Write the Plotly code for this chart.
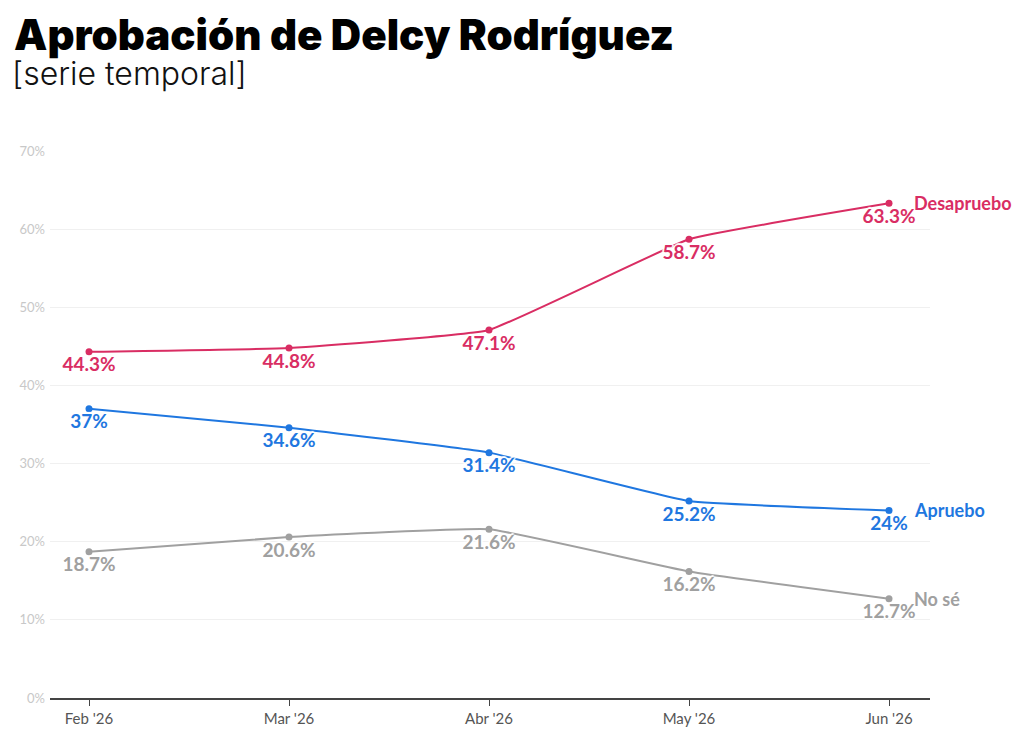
import plotly.graph_objects as go

meses = ["Feb '26", "Mar '26", "Abr '26", "May '26", "Jun '26"]
desapruebo = [44.3, 44.8, 47.1, 58.7, 63.3]
apruebo = [37, 34.6, 31.4, 25.2, 24]
no_se = [18.7, 20.6, 21.6, 16.2, 12.7]
y_ticks = [0, 10, 20, 30, 40, 50, 60, 70]

series = [
    ("Desapruebo", desapruebo, "#d92d63"),
    ("Apruebo", apruebo, "#1f77e0"),
    ("No sé", no_se, "#a0a0a0"),
]

label_font = "Lato"
halo = "2px 0 1px white, -2px 0 1px white, 0 2px 1px white, 0 -2px 1px white"

fig = go.Figure()

for name, vals, color in series:
    fig.add_trace(
        go.Scatter(
            x=meses,
            y=vals,
            name=name,
            mode="lines+markers+text",
            line=dict(color=color, width=2, shape="spline", smoothing=0.3),
            marker=dict(size=7, color=color),
            text=[f"{v:g}%" for v in vals],
            textposition="bottom center",
            textfont=dict(family=label_font, size=19, color=color, weight="bold", shadow=halo),
            cliponaxis=False,
            hoverinfo="skip",
        )
    )
    # series name at the end of each line
    fig.add_annotation(
        x=meses[-1],
        y=vals[-1],
        text=f"<b>{name}</b>",
        showarrow=False,
        xanchor="left",
        xshift=23,
        font=dict(family=label_font, size=18, color=color),
    )

fig.add_annotation(
    text="Aprobación de Delcy Rodríguez",
    xref="paper", yref="paper",
    x=-38 / 880, y=1 + 117 / 547,
    xanchor="left", yanchor="middle",
    showarrow=False,
    font=dict(family="Inter", size=42, color="#000000", weight=900),
)
fig.add_annotation(
    text="[serie temporal]",
    xref="paper", yref="paper",
    x=-40 / 880, y=1 + 77 / 547,
    xanchor="left", yanchor="middle",
    showarrow=False,
    font=dict(family="Inter", size=32, color="#111111", weight=300),
)

# page body has an 8px margin, so the figure is shifted by 8px
fig.update_layout(
    width=1008,
    height=722,
    template="plotly_white",
    plot_bgcolor="white",
    paper_bgcolor="white",
    showlegend=False,
    margin=dict(l=42, r=86, t=143, b=32, autoexpand=False),
    xaxis=dict(
        range=[-0.195, 4.205],
        showgrid=False,
        showline=True,
        linecolor="#444444",
        linewidth=1.5,
        ticks="outside",
        ticklen=6,
        tickcolor="#444444",
        tickfont=dict(family=label_font, size=15, color="#555555"),
        automargin=False,
        fixedrange=True,
    ),
    yaxis=dict(
        range=[0, 70],
        tickvals=y_ticks,
        ticktext=[f"{t}%" for t in y_ticks],
        showgrid=True,
        gridcolor="#f0f0f0",
        zeroline=False,
        showline=False,
        ticks="",
        tickfont=dict(family=label_font, size=13, color="#c8c8c8"),
        ticklabelstandoff=4,
        automargin=False,
        fixedrange=True,
    ),
)

fig.write_html("out.html")
